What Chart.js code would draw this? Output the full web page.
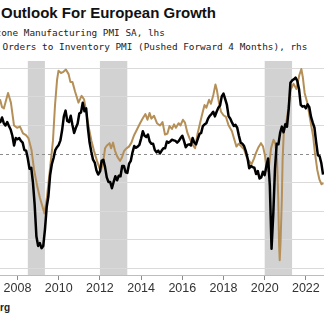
<!DOCTYPE html>
<html>
<head>
<meta charset="utf-8">
<script src="https://cdn.jsdelivr.net/npm/chart.js@4.4.1/dist/chart.umd.min.js"></script>
<style>
  html, body { margin: 0; padding: 0; background: #fff; }
  body { width: 324px; height: 321px; position: relative; overflow: hidden; }
  .title { position: absolute; left: 1px; top: 5px; font: bold 15px "Liberation Sans", Arial, sans-serif; line-height: 15px; white-space: nowrap; color: #111; }
  .legend { position: absolute; font: 9.4px "DejaVu Sans Mono", monospace; line-height: 10px; white-space: nowrap; color: #222; }
  .source { position: absolute; right: 314px; top: 302px; font: bold 10px "Liberation Sans", Arial, sans-serif; line-height: 12px; white-space: nowrap; color: #222; }
  #chart { position: absolute; left: 0; top: 0; }
</style>
</head>
<body>
<div class="title">Outlook For European Growth</div>
<div class="legend" style="left:-27px; top:28px;">Eurozone Manufacturing PMI SA, lhs</div>
<div class="legend" style="left:-20px; top:42px;">New Orders to Inventory PMI (Pushed Forward 4 Months), rhs</div>
<div class="source">Source: Bloomberg</div>
<canvas id="chart" width="324" height="321"></canvas>
<script>
// Eurozone manufacturing PMI, monthly from Jan 2007 (plotted at month end)
pmiStart = 2007
pmiValues = [
  55.5, 55.6, 56.4, 55.4, 55.0, 55.6, 54.9, 54.3, 53.2, 51.5, 52.8, 52.6,
  52.8, 52.3, 52.0, 50.7, 50.6, 49.2, 47.4, 47.6, 45.0, 41.1, 35.6, 33.9,
  34.4, 33.5, 33.9, 36.8, 40.7, 42.6, 46.3, 48.2, 49.3, 50.7, 51.2, 51.6,
  52.4, 54.2, 56.6, 57.6, 55.8, 55.6, 56.7, 55.1, 53.7, 54.6, 55.3, 57.1,
  57.3, 59.0, 57.5, 58.0, 54.6, 52.0, 50.4, 49.0, 48.5, 47.1, 46.4, 46.9,
  48.8, 49.0, 47.7, 45.9, 45.1, 45.1, 44.0, 45.1, 46.1, 45.4, 46.2, 46.1,
  47.9, 47.9, 46.8, 46.7, 48.3, 48.8, 50.3, 51.4, 51.1, 51.3, 51.6, 52.7,
  54.0, 53.2, 53.0, 53.4, 52.2, 51.8, 51.8, 50.7, 50.3, 50.6, 50.1, 50.6,
  51.0, 51.0, 52.2, 52.0, 52.2, 52.5, 52.4, 52.3, 52.0, 52.3, 52.8, 53.2,
  52.3, 51.2, 51.6, 51.7, 51.5, 52.8, 52.0, 51.7, 52.6, 53.5, 53.7, 54.9,
  55.2, 55.4, 56.2, 56.7, 57.0, 57.4, 56.6, 57.4, 58.1, 58.5, 60.1, 60.6,
  59.6, 58.6, 56.6, 56.2, 55.5, 54.9, 55.1, 54.6, 53.2, 52.0, 51.8, 51.4,
  50.5, 49.3, 47.5, 47.9, 47.7, 47.6, 46.5, 47.0, 45.7, 45.9, 46.9, 46.3,
  47.9, 49.2, 44.5, 33.4, 39.4, 47.4, 51.8, 51.7, 53.7, 54.8, 53.8, 55.2,
  54.8, 57.9, 62.5, 62.9, 63.1, 63.4, 62.8, 61.4, 58.6, 58.3, 58.4, 58.0,
  58.7, 58.2, 56.5, 55.5, 54.6, 52.1, 49.8, 49.6, 48.4, 46.4
]

// new orders / inventory PMI, shifted 4 months ahead, shown on the same level scale
tanDates = [
  2007.15, 2007.25, 2007.34, 2007.54, 2007.68, 2007.83, 2007.98, 2008.12, 2008.27, 2008.41,
  2008.53, 2008.68, 2008.80, 2008.95, 2009.09, 2009.21, 2009.31, 2009.43, 2009.58, 2009.72,
  2009.82, 2009.92, 2009.99, 2010.11, 2010.23, 2010.35, 2010.48, 2010.57, 2010.67, 2010.79,
  2010.96, 2011.11, 2011.23, 2011.35, 2011.47, 2011.59, 2011.71, 2011.86, 2012.03, 2012.15,
  2012.25, 2012.34, 2012.47, 2012.54, 2012.64, 2012.73, 2012.85, 2012.98, 2013.07, 2013.17,
  2013.29, 2013.41, 2013.53, 2013.66, 2013.80, 2013.95, 2014.09, 2014.21, 2014.31, 2014.41,
  2014.50, 2014.63, 2014.77, 2014.92, 2015.04, 2015.16, 2015.28, 2015.38, 2015.50, 2015.60,
  2015.69, 2015.82, 2015.91, 2016.03, 2016.13, 2016.25, 2016.35, 2016.47, 2016.62, 2016.74,
  2016.86, 2016.98, 2017.08, 2017.17, 2017.30, 2017.39, 2017.51, 2017.61, 2017.68, 2017.78,
  2017.88, 2018.00, 2018.12, 2018.24, 2018.41, 2018.53, 2018.63, 2018.73, 2018.85, 2019.00,
  2019.14, 2019.26, 2019.36, 2019.48, 2019.58, 2019.70, 2019.82, 2019.92, 2020.01, 2020.11,
  2020.18, 2020.31, 2020.43, 2020.52, 2020.60, 2020.66, 2020.70, 2020.73, 2020.77, 2020.83,
  2020.87, 2020.93, 2021.01, 2021.08, 2021.17, 2021.25, 2021.40, 2021.54, 2021.68, 2021.78,
  2021.85, 2021.94, 2022.08, 2022.21, 2022.35, 2022.44, 2022.55, 2022.66, 2022.76, 2022.85
]
tanValues = [
  59.6, 58.2, 58.0, 60.7, 59.0, 55.0, 54.6, 54.8, 53.6, 53.3,
  52.8, 50.7, 47.3, 44.5, 42.3, 40.8, 39.6, 42.5, 47.5, 52.3,
  58.5, 63.0, 64.6, 64.2, 64.4, 64.8, 64.0, 62.6, 62.6, 61.0,
  59.0, 60.2, 59.6, 57.0, 54.5, 52.3, 50.6, 48.8, 47.0, 48.3,
  51.0, 51.5, 51.9, 51.0, 52.0, 50.6, 49.5, 48.8, 49.4, 50.5,
  51.0, 51.3, 52.0, 53.3, 54.3, 55.4, 56.3, 57.0, 56.0, 57.2,
  56.2, 56.7, 55.4, 55.0, 55.6, 53.4, 53.6, 54.9, 54.4, 55.2,
  54.6, 55.4, 55.0, 56.0, 55.5, 53.7, 52.8, 51.8, 51.0, 53.5,
  55.4, 57.2, 58.6, 58.1, 59.5, 58.8, 60.4, 62.2, 61.2, 59.0,
  57.4, 56.8, 56.5, 55.1, 54.0, 52.5, 51.3, 51.8, 51.4, 50.8,
  49.3, 48.7, 48.2, 49.2, 50.2, 51.2, 51.9, 51.3, 49.8, 47.2,
  47.0, 51.0, 52.5, 51.8, 49.0, 42.0, 34.0, 31.4, 34.5, 41.7,
  49.0, 54.0, 55.0, 56.2, 58.6, 61.2, 62.3, 61.4, 63.8, 64.9,
  63.5, 60.7, 58.8, 56.0, 53.2, 50.2, 47.3, 45.5, 44.7, 44.9
]

// shaded recession periods
recessionStarts = [2008.5, 2012.0, 2020.0]
recessionEnds = [2009.33, 2013.33, 2021.33]

yearTicks = [2008, 2010, 2012, 2014, 2016, 2018, 2020, 2022]
levelTicks = [30, 35, 40, 45, 50, 55, 60, 65]
neutralLevel = 50

xMin = 2007.15
xMax = 2022.88
yMin = 28.8
yMax = 66.3

pmiPoints = pmiValues.map((v, i) => ({ x: pmiStart + (i + 1) / 12, y: v }))
tanPoints = tanValues.map((v, i) => ({ x: tanDates[i], y: v }))

const shading = {
  id: 'shading',
  beforeDraw(chart) {
    const { ctx, chartArea, scales } = chart
    ctx.save()
    ctx.fillStyle = '#d2d2d2'
    recessionStarts.forEach((s, i) => {
      const x0 = scales.x.getPixelForValue(s)
      const x1 = scales.x.getPixelForValue(recessionEnds[i])
      ctx.fillRect(x0, chartArea.top, x1 - x0, chartArea.bottom - chartArea.top)
    })
    ctx.restore()
  },
  beforeDatasetsDraw(chart) {
    // dashed line at the 50 expansion/contraction mark
    const { ctx, chartArea, scales } = chart
    const y = Math.round(scales.y.getPixelForValue(neutralLevel)) + 0.5
    ctx.save()
    ctx.strokeStyle = '#8c8c8c'
    ctx.lineWidth = 1
    ctx.setLineDash([3, 3])
    ctx.beginPath()
    ctx.moveTo(chartArea.left, y)
    ctx.lineTo(chartArea.right, y)
    ctx.stroke()
    ctx.restore()
  }
}

chartdata = {
  datasets: [{
    label: 'Eurozone Manufacturing PMI SA',
    data: pmiPoints,
    borderColor: '#000000',
    borderWidth: 2.5,
    pointRadius: 0,
    borderJoinStyle: 'round'
  }, {
    label: 'New Orders to Inventory PMI (Pushed Forward 4 Months)',
    data: tanPoints,
    borderColor: '#b58f58',
    borderWidth: 2,
    pointRadius: 0,
    borderJoinStyle: 'round'
  }]
}

config = {
  type: 'line',
  data: chartdata,
  plugins: [shading],
  options: {
    responsive: false,
    animation: false,
    layout: { padding: { top: 61, left: 0, right: 0, bottom: 0 } },
    plugins: { legend: { display: false }, tooltip: { enabled: false } },
    scales: {
      x: {
        type: 'linear',
        min: xMin,
        max: xMax,
        afterBuildTicks: s => { s.ticks = yearTicks.map(v => ({ value: v })) },
        afterFit: s => { s.height = 46 },
        grid: { drawOnChartArea: false, drawTicks: true, tickLength: 5, tickColor: '#8a8a8a', tickWidth: 1 },
        border: { display: true, color: '#bdbdbd', width: 1 },
        ticks: {
          padding: 1,
          color: '#333',
          autoSkip: false,
          maxRotation: 0,
          font: { family: 'Liberation Sans', size: 12.5 },
          callback: v => String(v)
        }
      },
      y: {
        min: yMin,
        max: yMax,
        afterBuildTicks: s => { s.ticks = levelTicks.map(v => ({ value: v })) },
        afterFit: s => { s.width = 0 },
        ticks: { display: false },
        grid: {
          drawTicks: false,
          lineWidth: 1,
          color: c => (c.tick && c.tick.value === neutralLevel) ? 'rgba(0,0,0,0)' : '#dadada'
        },
        border: { display: false }
      }
    }
  }
}

var myChart = new Chart(document.getElementById('chart'), config)
</script>
</body>
</html>
